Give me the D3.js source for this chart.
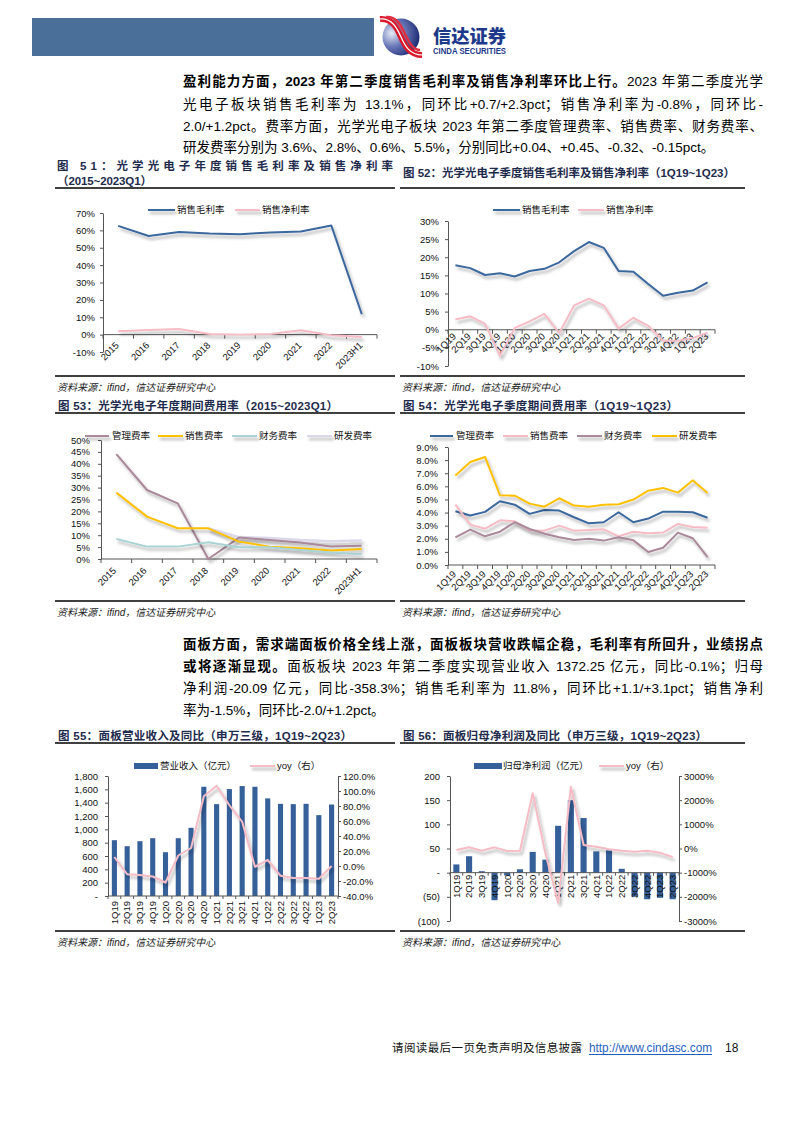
<!DOCTYPE html>
<html><head><meta charset="utf-8">
<script src="https://cdn.jsdelivr.net/npm/d3@7"></script>
<style>
body{margin:0;background:#fff;}
#page{position:relative;width:794px;height:1123px;overflow:hidden;background:#fff;}
svg{position:absolute;left:0;top:0;}
.p{position:absolute;left:183px;width:580px;height:22px;line-height:22px;font-size:13.5px;font-family:"Liberation Sans","Noto Sans CJK SC",sans-serif;color:#000;white-space:nowrap;}
.j{text-align:justify;text-align-last:justify;}
.b{font-weight:bold;}
</style></head><body><div id="page"><svg id="svg" width="794" height="1123"></svg>
<div class="p j" style="top:71px"><span class="b">盈利能力方面，2023 年第二季度销售毛利率及销售净利率环比上行。</span>2023 年第二季度光学</div>
<div class="p j" style="top:94px">光电子板块销售毛利率为 13.1%，同环比+0.7/+2.3pct；销售净利率为-0.8%，同环比-</div>
<div class="p j" style="top:116px">2.0/+1.2pct。费率方面，光学光电子板块 2023 年第二季度管理费率、销售费率、财务费率、</div>
<div class="p" style="top:137px">研发费率分别为 3.6%、2.8%、0.6%、5.5%，分别同比+0.04、+0.45、-0.32、-0.15pct。</div>
<div class="p j" style="top:634px"><span class="b">面板方面，需求端面板价格全线上涨，面板板块营收跌幅企稳，毛利率有所回升，业绩拐点</span></div>
<div class="p j" style="top:656px"><span class="b">或将逐渐显现。</span>面板板块 2023 年第二季度实现营业收入 1372.25 亿元，同比-0.1%；归母</div>
<div class="p j" style="top:678px">净利润-20.09 亿元，同比-358.3%；销售毛利率为 11.8%，同环比+1.1/+3.1pct；销售净利</div>
<div class="p" style="top:700px">率为-1.5%，同环比-2.0/+1.2pct。</div>
</div>
<script>
// ---------------- DATA ----------------
const years = ["2015","2016","2017","2018","2019","2020","2021","2022","2023H1"];
const quarters = ["1Q19","2Q19","3Q19","4Q19","1Q20","2Q20","3Q20","4Q20","1Q21","2Q21","3Q21","4Q21","1Q22","2Q22","3Q22","4Q22","1Q23","2Q23"];

const fig51Gross = [62.6,56.8,59.1,58.2,57.8,58.8,59.3,62.8,11.7];
const fig51Net   = [1.9,2.7,3.3,0.4,0.0,0.4,2.5,-0.4,-1.4];
const fig51Ticks = [70,60,50,40,30,20,10,0,-10];

const fig52Gross = [17.8,17.0,15.1,15.6,14.7,16.2,16.8,18.6,21.7,24.2,22.6,16.2,16.0,12.6,9.4,10.2,10.8,13.1];
const fig52Net   = [2.8,3.7,1.6,-7.2,0.5,2.3,4.4,-0.9,6.7,8.6,6.7,0.3,3.3,1.1,-3.0,-3.0,-2.3,-0.8];
const fig52Ticks = [30,25,20,15,10,5,0,-5,-10];

const fig53Admin   = [44.1,29.0,23.4,0.0,9.0,8.0,6.9,5.3,5.6];
const fig53Sales   = [27.9,17.8,12.9,12.9,7.3,5.2,4.5,3.6,4.2];
const fig53Finance = [8.4,5.2,5.2,7.0,4.9,4.9,3.8,2.7,2.0];
const fig53RD      = [null,null,null,12.9,9.2,8.8,8.0,7.5,7.8];
const fig53Ticks = [50,45,40,35,30,25,20,15,10,5,0];

const fig54Admin   = [4.10,3.77,4.05,4.86,4.60,3.90,4.20,4.15,3.64,3.18,3.26,4.02,3.26,3.54,4.07,4.07,4.02,3.60];
const fig54Sales   = [4.60,3.08,2.77,3.41,3.33,2.65,2.62,3.00,2.62,2.67,2.72,2.19,2.54,2.42,2.47,3.13,2.90,2.85];
const fig54Finance = [2.11,2.70,2.19,2.54,3.26,2.75,2.39,2.11,1.91,2.00,1.86,2.11,1.88,0.99,1.32,2.47,2.04,0.60];
const fig54RD      = [6.82,7.86,8.24,5.32,5.29,4.68,4.45,5.09,4.53,4.45,4.60,4.63,4.99,5.67,5.88,5.52,6.46,5.50];
const fig54Ticks = [9,8,7,6,5,4,3,2,1,0];

const fig55Revenue = [837,747,822,867,657,867,1023,1639,1378,1604,1649,1639,1464,1383,1378,1383,1213,1372];
const fig55Yoy     = [12,-11,-12,-14,-22,14,24,93,107,81,59,-1,8,-13,-16,-16,-17,-0.1];
const fig55LeftTicks  = [0,200,400,600,800,1000,1200,1400,1600,1800];
const fig55RightTicks = [-40,-20,0,20,40,60,80,100,120];

const fig56Profit = [17,34,3,-57,-6,7,43,27,97,150,113,44,46,8,-50,-55,-52,-55];
const fig56Yoy    = [-62,48,-90,48,-100,-90,2283,-200,-2245,2559,145,76,-34,-90,-131,-90,-172,-358];
const fig56LeftTicks  = [-100,-50,0,50,100,150,200];
const fig56RightTicks = [-3000,-2000,-1000,0,1000,2000,3000];

// ---------------- STYLE ----------------
const LAT = "'Liberation Sans', Arial, 'Noto Sans CJK SC', sans-serif";
const CJK = "'Noto Sans CJK SC', 'Liberation Sans', sans-serif";
const AX = "#555";
const BLUE = "#3b679d", PINK = "#f5bcc6", MAUVE = "#a9899a", YELLOW = "#ffc000", TEAL = "#a9d3d4", LAV = "#dcd8ea", BAR = "#35609a";
const TITLE = "#1e2b4d";

const svg = d3.select("#svg");
const defs = svg.append("defs");
const f = defs.append("filter").attr("id","sh").attr("filterUnits","userSpaceOnUse")
  .attr("x",0).attr("y",0).attr("width",794).attr("height",1123);
f.append("feDropShadow").attr("dx",2).attr("dy",3).attr("stdDeviation",1.6)
  .attr("flood-color","#000").attr("flood-opacity",0.3);

// ---------------- HEADER ----------------
svg.append("rect").attr("x",32).attr("y",18).attr("width",342).attr("height",38).attr("fill","#4a6f98");
const rg = defs.append("radialGradient").attr("id","lg").attr("cx","25%").attr("cy","40%").attr("r","80%");
rg.append("stop").attr("offset","0%").attr("stop-color","#e8ecf6");
rg.append("stop").attr("offset","45%").attr("stop-color","#6a78b8");
rg.append("stop").attr("offset","100%").attr("stop-color","#16246e");
svg.append("circle").attr("cx",401).attr("cy",37).attr("r",18.5).attr("fill","url(#lg)");
svg.append("path").attr("d","M380,19 C392,18 397,28 401,37 C405,46 410,55 422,55")
  .attr("fill","none").attr("stroke","#d71a2c").attr("stroke-width",6);
svg.append("path").attr("d","M380,19 C392,18 397,28 401,37 C405,46 410,55 422,55")
  .attr("fill","none").attr("stroke","#fff").attr("stroke-width",1.2);
svg.append("path").attr("d","M386,17 C397,16 401,26 405,34 C409,42 413,50 420,50")
  .attr("fill","none").attr("stroke","#e03040").attr("stroke-width",2.5);
svg.append("text").attr("x",433).attr("y",43).attr("font-family",CJK).attr("font-weight",900)
  .attr("font-size",18).attr("fill","#1d3a8a").attr("textLength",73).attr("lengthAdjust","spacingAndGlyphs").text("信达证券");
svg.append("text").attr("x",433).attr("y",54).attr("font-family",LAT).attr("font-weight","bold")
  .attr("font-size",8.5).attr("fill","#1d3a8a").attr("textLength",73).attr("lengthAdjust","spacingAndGlyphs").text("CINDA SECURITIES");

// ---------------- HELPERS ----------------
function title(x, y, txt, len){
  svg.append("text").attr("x",x).attr("y",y).attr("font-family",LAT).attr("font-weight","bold")
    .attr("font-size",11.5).attr("fill",TITLE).attr("textLength",len).attr("lengthAdjust","spacing").text(txt);
}
function hline(x1,x2,y,w){
  svg.append("line").attr("x1",x1).attr("x2",x2).attr("y1",y).attr("y2",y).attr("stroke","#000").attr("stroke-width",w||1.3);
}
function source(x,y){
  svg.append("text").attr("x",x).attr("y",y).attr("font-family",LAT).attr("font-style","italic")
    .attr("font-size",10).attr("fill","#222").text("资料来源：ifind，信达证券研究中心");
}
function styleAxis(sel){
  sel.attr("font-family",LAT).attr("font-size",9.5);
  sel.select(".domain").attr("stroke",AX).attr("stroke-width",1);
  sel.selectAll(".tick line").attr("stroke",AX);
  sel.selectAll(".tick text").attr("fill","#111");
}
function legendLine(g, y, items){
  items.forEach(it=>{
    g.append("line").attr("x1",it.x1).attr("x2",it.x2).attr("y1",y).attr("y2",y)
      .attr("stroke",it.color).attr("stroke-width",it.w||2).attr("filter","url(#sh)");
    g.append("text").attr("x",it.tx).attr("y",y).attr("dy","0.35em").attr("font-family",LAT)
      .attr("font-size",9.5).attr("fill","#111").text(it.label);
  });
}

function drawLineChart(cfg){
  const g = svg.append("g");
  const x = d3.scaleBand().domain(cfg.cats).range([cfg.x0,cfg.x1]);
  const y = d3.scaleLinear().domain(cfg.domain).range([cfg.yBot,cfg.yTop]);
  const ya = g.append("g").attr("transform",`translate(${cfg.x0},0)`)
    .call(d3.axisLeft(y).tickValues(cfg.ticks).tickSize(3).tickSizeOuter(0).tickPadding(cfg.pad).tickFormat(cfg.fmt));
  styleAxis(ya);
  const y0 = y(0);
  g.append("line").attr("x1",cfg.x0).attr("x2",cfg.x1).attr("y1",y0).attr("y2",y0).attr("stroke",AX);
  const bounds = cfg.cats.map(c=>x(c)).concat([cfg.x1]);
  g.selectAll(".xt").data(bounds).join("line").attr("x1",d=>d).attr("x2",d=>d)
    .attr("y1",y0).attr("y2",y0+4).attr("stroke",AX);
  g.selectAll(".xl").data(cfg.cats).join("text")
    .attr("transform",d=>`translate(${x(d)+x.bandwidth()/2+cfg.ldx},${y0+cfg.ldy}) rotate(-45)`)
    .attr("text-anchor","end").attr("dy","0.35em").attr("font-family",LAT).attr("font-size",9.5)
    .attr("fill","#111").text(d=>d);
  const line = d3.line().defined(d=>d.v!=null).x(d=>x(d.c)+x.bandwidth()/2).y(d=>y(d.v));
  cfg.series.forEach(s=>{
    g.append("path").datum(cfg.cats.map((c,i)=>({c, v:s.values[i]})))
      .attr("d",line).attr("fill","none").attr("stroke",s.color).attr("stroke-width",s.w||2)
      .attr("stroke-linejoin","round").attr("filter","url(#sh)");
  });
  legendLine(g, cfg.legendY, cfg.legend);
}

function drawCombo(cfg){
  const g = svg.append("g");
  const n = cfg.cats.length;
  const x = d3.scaleBand().domain(cfg.cats).range([cfg.x0,cfg.x1]).paddingInner(cfg.barPad).paddingOuter(cfg.barPad/2);
  const yL = d3.scaleLinear().domain(cfg.lDomain).range([cfg.yBot,cfg.yTop]);
  const yR = d3.scaleLinear().domain(cfg.rDomain).range([cfg.yBot,cfg.yTop]);
  const la = g.append("g").attr("transform",`translate(${cfg.x0},0)`)
    .call(d3.axisLeft(yL).tickValues(cfg.lTicks).tickSize(3).tickSizeOuter(0).tickPadding(7).tickFormat(cfg.lFmt));
  styleAxis(la);
  const ra = g.append("g").attr("transform",`translate(${cfg.x1},0)`)
    .call(d3.axisRight(yR).tickValues(cfg.rTicks).tickSize(3).tickSizeOuter(0).tickPadding(2).tickFormat(cfg.rFmt));
  styleAxis(ra);
  g.selectAll(".bar").data(cfg.cats).join("rect")
    .attr("x",d=>x(d)).attr("width",x.bandwidth())
    .attr("y",(d,i)=>Math.min(yL(cfg.bars[i]),yL(0)))
    .attr("height",(d,i)=>Math.abs(yL(cfg.bars[i])-yL(0)))
    .attr("fill",BAR);
  const y0 = yL(0);
  const step = (cfg.x1-cfg.x0)/n;
  g.append("line").attr("x1",cfg.x0).attr("x2",cfg.x1).attr("y1",y0).attr("y2",y0).attr("stroke",AX);
  g.selectAll(".xt").data(d3.range(n+1)).join("line").attr("x1",i=>cfg.x0+i*step).attr("x2",i=>cfg.x0+i*step)
    .attr("y1",y0).attr("y2",y0+3).attr("stroke",AX);
  g.selectAll(".xl").data(cfg.cats).join("text")
    .attr("transform",d=>`translate(${x(d)+x.bandwidth()/2},${y0+cfg.ldy}) rotate(-90)`)
    .attr("text-anchor","end").attr("dy","0.35em").attr("font-family",LAT).attr("font-size",9.5)
    .attr("fill","#111").text(d=>d);
  const line = d3.line().x((d,i)=>x(cfg.cats[i])+x.bandwidth()/2).y(d=>yR(d));
  g.append("path").datum(cfg.yoy).attr("d",line).attr("fill","none").attr("stroke",PINK)
    .attr("stroke-width",2).attr("stroke-linejoin","round").attr("filter","url(#sh)");
  const L = cfg.legend;
  g.append("rect").attr("x",L.rx).attr("y",L.y-3).attr("width",L.rw).attr("height",6).attr("fill",BAR);
  g.append("text").attr("x",L.rt).attr("y",L.y).attr("dy","0.35em").attr("font-family",LAT).attr("font-size",9.5).attr("fill","#111").text(L.barLabel);
  g.append("line").attr("x1",L.lx1).attr("x2",L.lx2).attr("y1",L.y).attr("y2",L.y).attr("stroke",PINK).attr("stroke-width",2).attr("filter","url(#sh)");
  g.append("text").attr("x",L.lt).attr("y",L.y).attr("dy","0.35em").attr("font-family",LAT).attr("font-size",9.5).attr("fill","#111").text("yoy（右）");
}

const pct0 = v => v + "%";

// ---------------- FIG 51 ----------------
title(57,169.5,"图 51：光学光电子年度销售毛利率及销售净利率",336);
title(57,184.5,"（2015~2023Q1）",95);
hline(55,395,188);
drawLineChart({cats:years,x0:103,x1:377,yTop:213,yBot:352,domain:[-10,70],ticks:fig51Ticks,fmt:pct0,pad:5,
  ldx:-1,ldy:9,
  series:[{values:fig51Gross,color:BLUE,w:2},{values:fig51Net,color:PINK,w:2}],
  legendY:210,
  legend:[{x1:148,x2:175,tx:177,color:BLUE,label:"销售毛利率"},{x1:235,x2:260,tx:262,color:PINK,label:"销售净利率"}]});
hline(55,395,376,1.3);
source(57,390.5);

// ---------------- FIG 52 ----------------
title(403,176.5,"图 52：光学光电子季度销售毛利率及销售净利率（1Q19~1Q23）",332);
hline(400,745,188);
drawLineChart({cats:quarters,x0:448,x1:715,yTop:221,yBot:366,domain:[-10,30],ticks:fig52Ticks,fmt:pct0,pad:6,
  ldx:-1,ldy:5,
  series:[{values:fig52Gross,color:BLUE,w:2},{values:fig52Net,color:PINK,w:2}],
  legendY:210,
  legend:[{x1:493,x2:520,tx:522,color:BLUE,label:"销售毛利率"},{x1:578,x2:604,tx:606,color:PINK,label:"销售净利率"}]});
hline(400,745,376,1.3);
source(402,390.5);

// ---------------- FIG 53 ----------------
title(58,409.5,"图 53：光学光电子年度期间费用率（2015~2023Q1）",280);
hline(55,395,413);
drawLineChart({cats:years,x0:101,x1:377,yTop:440,yBot:559,domain:[0,50],ticks:fig53Ticks,fmt:pct0,pad:8,
  ldx:-2,ldy:10,
  series:[{values:fig53RD,color:LAV,w:2.5},{values:fig53Admin,color:MAUVE,w:2},{values:fig53Sales,color:YELLOW,w:2},
          {values:fig53Finance,color:TEAL,w:2}],
  legendY:436,
  legend:[{x1:85,x2:109,tx:112,color:MAUVE,label:"管理费率"},{x1:158,x2:183,tx:185,color:YELLOW,label:"销售费率"},
          {x1:232,x2:257,tx:259,color:TEAL,label:"财务费率"},{x1:307,x2:332,tx:334,color:LAV,label:"研发费率"}]});
hline(55,395,601,1.3);
source(57,615.5);

// ---------------- FIG 54 ----------------
title(403,409.5,"图 54：光学光电子季度期间费用率（1Q19~1Q23）",275);
hline(400,745,413);
drawLineChart({cats:quarters,x0:448,x1:715,yTop:447,yBot:565,domain:[0,9],ticks:fig54Ticks,fmt:v=>v.toFixed(1)+"%",pad:7,
  ldx:-1,ldy:7.5,
  series:[{values:fig54Admin,color:BLUE,w:2},{values:fig54Sales,color:PINK,w:2},{values:fig54Finance,color:MAUVE,w:2},
          {values:fig54RD,color:YELLOW,w:2}],
  legendY:436,
  legend:[{x1:430,x2:453,tx:456,color:BLUE,label:"管理费率"},{x1:503,x2:528,tx:530,color:PINK,label:"销售费率"},
          {x1:577,x2:602,tx:604,color:MAUVE,label:"财务费率"},{x1:652,x2:677,tx:679,color:YELLOW,label:"研发费率"}]});
hline(400,745,601,1.3);
source(402,615.5);

// ---------------- FIG 55 ----------------
title(58,739.5,"图 55：面板营业收入及同比（申万三级，1Q19~2Q23）",294);
hline(55,395,743);
drawCombo({cats:quarters,x0:108,x1:338,yTop:776,yBot:896,lDomain:[0,1800],rDomain:[-40,120],
  lTicks:fig55LeftTicks,rTicks:fig55RightTicks,
  lFmt:v=>v===0?"-":d3.format(",")(v), rFmt:v=>v.toFixed(1)+"%",
  bars:fig55Revenue,yoy:fig55Yoy,barPad:0.6,ldy:5,
  legend:{y:766,rx:134,rw:24,rt:160,barLabel:"营业收入（亿元）",lx1:250,lx2:275,lt:277}});
hline(55,395,931,1.3);
source(57,945.5);

// ---------------- FIG 56 ----------------
title(403,739.5,"图 56：面板归母净利润及同比（申万三级，1Q19~2Q23）",304);
hline(400,745,743);
drawCombo({cats:quarters,x0:450,x1:679,yTop:776,yBot:921,lDomain:[-100,200],rDomain:[-3000,3000],
  lTicks:fig56LeftTicks,rTicks:fig56RightTicks,
  lFmt:v=>v===0?"-":(v<0?`(${-v})`:`${v}`), rFmt:v=>v+"%",
  bars:fig56Profit,yoy:fig56Yoy,barPad:0.52,ldy:2,
  legend:{y:766,rx:474,rw:28,rt:503,barLabel:"归母净利润（亿元）",lx1:599,lx2:624,lt:626}});
hline(400,745,931,1.3);
source(402,945.5);

// ---------------- FOOTER ----------------
svg.append("text").attr("x",392).attr("y",1052).attr("font-family",CJK).attr("font-size",11.5)
  .attr("fill","#111").attr("textLength",190).attr("lengthAdjust","spacing").text("请阅读最后一页免责声明及信息披露");
svg.append("text").attr("x",589).attr("y",1052).attr("font-family",LAT).attr("font-size",12)
  .attr("fill","#1f5fbf").attr("textLength",123).attr("lengthAdjust","spacingAndGlyphs").text("http://www.cindasc.com");
svg.append("line").attr("x1",589).attr("x2",712).attr("y1",1054.5).attr("y2",1054.5).attr("stroke","#1f5fbf").attr("stroke-width",1);
svg.append("text").attr("x",725).attr("y",1052).attr("font-family",LAT).attr("font-size",12).attr("fill","#111").text("18");
</script></body></html>
